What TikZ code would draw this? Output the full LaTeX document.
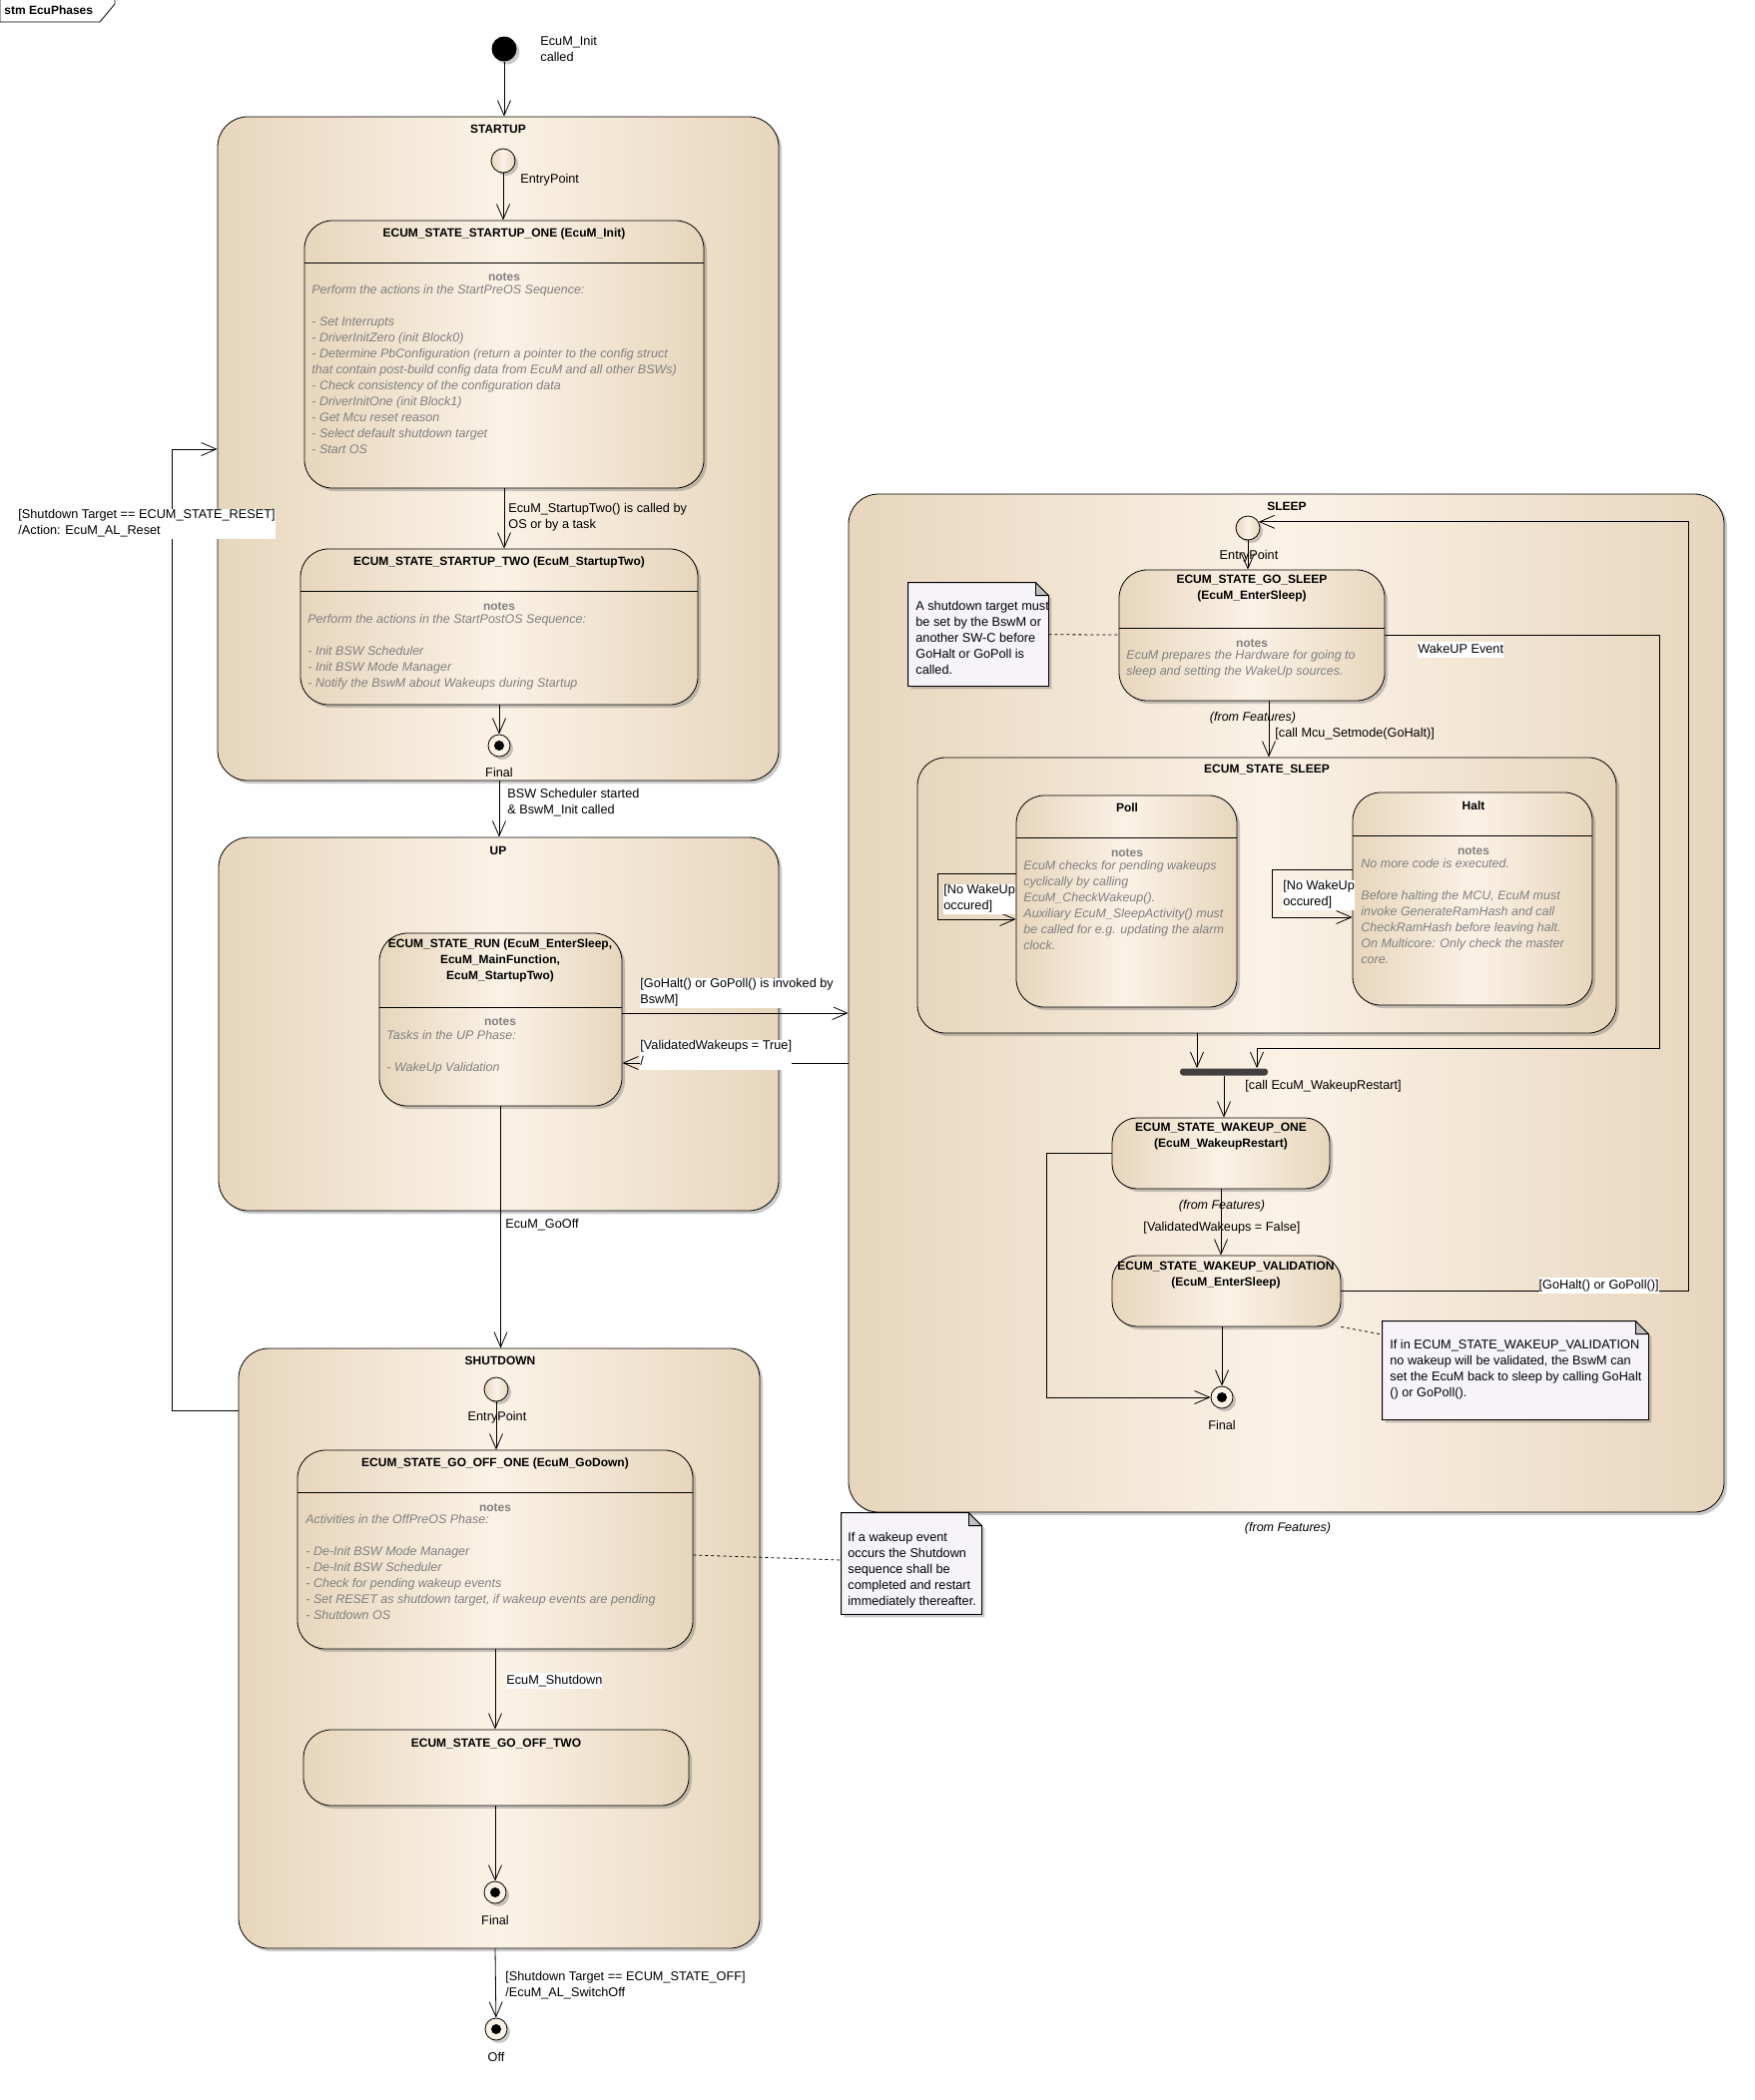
\documentclass[tikz,border=0pt]{standalone}
\usepackage{fontspec}
\setmainfont{Liberation Sans}
\usetikzlibrary{positioning,arrows.meta,shadows}
\definecolor{stedge}{RGB}{231,214,189}
\definecolor{stmid}{RGB}{251,242,230}
\definecolor{notefill}{RGB}{246,244,249}
\definecolor{notegray}{RGB}{128,128,128}
\begin{document}
\begin{tikzpicture}[x=1pt,y=-1pt,>={Straight Barb[length=15pt,width=13pt]},
  font=\fontsize{12.7}{16}\selectfont,line width=0.8pt,
  every node/.style={inner sep=0pt},
  shade/.style={drop shadow={shadow xshift=3pt,shadow yshift=-3pt,fill=black!60,opacity=.35}},
  phasebox/.style={draw,rounded corners=30pt,left color=stedge,right color=stedge,middle color=stmid,shade},
  statebox/.style={phasebox,rounded corners=28pt},
  entrypt/.style={circle,draw,minimum size=24pt,left color=stedge,right color=stedge,middle color=stmid,shade},
  finalpt/.style={circle,draw,minimum size=22pt,fill=stmid,shade,
    path picture={\fill[black] (path picture bounding box.center) circle (5pt);}},
  initpt/.style={circle,fill=black,minimum size=25pt,shade},
  forkbar/.style={rectangle,fill=black!75,minimum width=88pt,minimum height=7pt,rounded corners=3pt},
  notebox/.style={rectangle},
  notedraw/.style={draw,fill=notefill,shade},
  txt/.style={anchor=north west,align=left,execute at begin node=\strut},
  ctxt/.style={anchor=north,align=center,execute at begin node=\strut},
  ttl/.style={ctxt,font=\fontsize{12}{16}\selectfont\bfseries},
  nts/.style={ctxt,text=notegray,font=\fontsize{12}{16}\selectfont\bfseries},
  ntxt/.style={txt,text=notegray,font=\fontsize{12.5}{16}\selectfont\itshape},
  lblw/.style={txt,fill=white},
  feat/.style={ctxt,font=\fontsize{12.5}{16}\selectfont\itshape}]
\useasboundingbox (0,0) rectangle (1757,2104);

\draw[fill=white] (0,0) -- (0,22) -- (100,22) -- (115,4) -- (115,0);
\node[txt,font=\fontsize{12}{16}\selectfont\bfseries] (tag) at (4,3) {stm EcuPhases};

\node[phasebox,minimum width=562,minimum height=665] (startup) at (499,449.5) {};
\node[phasebox,minimum width=561,minimum height=374] (up) at (499.5,1026) {};
\node[phasebox,minimum width=522,minimum height=601] (shutdown) at (500,1651.5) {};
\node[phasebox,minimum width=877,minimum height=1020] (sleep) at (1288.5,1005) {};

\node[statebox,minimum width=400,minimum height=268] (one) at (505,355) {};
\node[statebox,minimum width=398,minimum height=156] (two) at (500,628) {};
\node[statebox,minimum width=243,minimum height=173] (run) at (501.5,1021.5) {};
\node[statebox,minimum width=396,minimum height=199] (goffone) at (496,1552.5) {};
\node[statebox,minimum width=386,minimum height=76] (gofftwo) at (497,1771) {};
\node[statebox,minimum width=266,minimum height=131] (gosleep) at (1254,636.5) {};
\node[statebox,minimum width=700,minimum height=276] (sleepst) at (1269,897) {};
\node[statebox,minimum width=221,minimum height=212] (poll) at (1128.5,903) {};
\node[statebox,minimum width=240,minimum height=213] (halt) at (1475,900.5) {};
\node[statebox,rounded corners=25pt,minimum width=218,minimum height=71] (wkone) at (1223,1155.5) {};
\node[statebox,rounded corners=25pt,minimum width=229,minimum height=71] (wkval) at (1228.5,1293.5) {};

\draw (one.west |- 0,263) -- (one.east |- 0,263);
\draw (two.west |- 0,592) -- (two.east |- 0,592);
\draw (run.west |- 0,1009) -- (run.east |- 0,1009);
\draw (goffone.west |- 0,1495) -- (goffone.east |- 0,1495);
\draw (gosleep.west |- 0,629) -- (gosleep.east |- 0,629);
\draw (poll.west |- 0,839) -- (poll.east |- 0,839);
\draw (halt.west |- 0,837) -- (halt.east |- 0,837);

\node[initpt] (init) at (505,49) {};
\node[entrypt] (stentry) at (504,161) {};
\node[finalpt] (stfinal) at (500,747) {};
\node[entrypt] (sdentry) at (497,1392) {};
\node[finalpt] (sdfinal) at (496,1896) {};
\node[finalpt] (off) at (497,2033) {};
\node[entrypt] (slentry) at (1250,529) {};
\node[finalpt] (slfinal) at (1224,1400) {};
\node[forkbar] (fork) at (1226,1074) {};

\node[notebox,minimum width=140,minimum height=103] (noteA) at (980,635.5) {};
\draw[notedraw] (noteA.south west) -- (noteA.north west) -- ([xshift=-13pt]noteA.north east) -- ([yshift=-13pt]noteA.north east) -- (noteA.south east) -- cycle;
\draw[fill=black!25] ([xshift=-13pt]noteA.north east) -- ([xshift=-13pt,yshift=-13pt]noteA.north east) -- ([yshift=-13pt]noteA.north east) -- cycle;
\node[notebox,minimum width=140,minimum height=101] (noteB) at (913,1566.5) {};
\draw[notedraw] (noteB.south west) -- (noteB.north west) -- ([xshift=-13pt]noteB.north east) -- ([yshift=-13pt]noteB.north east) -- (noteB.south east) -- cycle;
\draw[fill=black!25] ([xshift=-13pt]noteB.north east) -- ([xshift=-13pt,yshift=-13pt]noteB.north east) -- ([yshift=-13pt]noteB.north east) -- cycle;
\node[notebox,minimum width=266,minimum height=98] (noteC) at (1518,1373) {};
\draw[notedraw] (noteC.south west) -- (noteC.north west) -- ([xshift=-13pt]noteC.north east) -- ([yshift=-13pt]noteC.north east) -- (noteC.south east) -- cycle;
\draw[fill=black!25] ([xshift=-13pt]noteC.north east) -- ([xshift=-13pt,yshift=-13pt]noteC.north east) -- ([yshift=-13pt]noteC.north east) -- cycle;

\draw[->] (init) -- (init |- startup.north);
\draw[->] (stentry) -- (stentry |- one.north);
\draw[->] (one.south) -- (one.south |- two.north);
\draw[->] (two.south -| stfinal) -- (stfinal);
\draw[->] (stfinal |- startup.south) -- (stfinal |- up.north);
\draw[->] (run.east |- 0,1015) -- (sleep.west |- 0,1015);
\draw[->] (sleep.west |- 0,1065) -- (run.east |- 0,1065);
\draw[->] (run.south) -- (run.south |- shutdown.north);
\draw[->] (sdentry) -- (sdentry |- goffone.north);
\draw[->] (goffone.south) -- (goffone.south |- gofftwo.north);
\draw[->] (gofftwo.south -| sdfinal) -- (sdfinal);
\draw[->] (sdfinal |- shutdown.south) -- (off);
\draw[->] (shutdown.west |- 0,1413) -| (172,450) -- (startup.west |- 0,450);
\draw[->] (slentry) -- (slentry |- gosleep.north);
\draw[->] ([xshift=17pt]gosleep.south) -- ([xshift=17pt]gosleep.south |- sleepst.north);
\draw[->] (gosleep.east |- 0,636) -| (1662,1050) -| ([xshift=33pt]fork.north);
\draw[->] (sleepst.south -| 1199,0) -- (fork.north -| 1199,0);
\draw[->] (fork.south) -- (fork.south |- wkone.north);
\draw[->] (wkone.south) -- (wkone.south |- wkval.north);
\draw[->] (wkval.south -| slfinal) -- (slfinal);
\draw[->] (wkone.west) -| (1048,1400) -- (slfinal);
\draw[->] (wkval.east |- 0,1293) -| (slentry.30 -| 1691,0) -- (slentry.30);
\draw[->] (poll.west |- 0,875) -| (939,921) -- (poll.west |- 0,921);
\draw[->] (halt.west |- 0,871) -| (1274,919) -- (halt.west |- 0,919);
\draw[dashed] (noteA) -- (gosleep);
\draw[dashed] (goffone.east |- 0,1558) -- (noteB.west |- 0,1563);
\draw[dashed] (wkval.south east) -- (noteC.west |- 0,1337);

\node[txt] (initL) at (541,36) {EcuM\_Init\\called};
\node[ttl] (startupT) at (499,122) {STARTUP};
\node[txt] (stentryL) at (521,172) {EntryPoint};
\node[ttl] (oneT) at (505,226) {ECUM\_STATE\_STARTUP\_ONE (EcuM\_Init)};
\node[nts] (oneN) at (505,270) {notes};
\node[ntxt] (oneB) at (312,285) {Perform the actions in the StartPreOS Sequence:\\[16pt]- Set Interrupts\\- DriverInitZero (init Block0)\\- Determine PbConfiguration (return a pointer to the config struct\\that contain post-build config data from EcuM and all other BSWs)\\- Check consistency of the configuration data\\- DriverInitOne (init Block1)\\- Get Mcu reset reason\\- Select default shutdown target\\- Start OS};
\node[txt] (oneL) at (509,504) {EcuM\_StartupTwo() is called by\\OS or by a task};
\node[ttl] (twoT) at (500,555) {ECUM\_STATE\_STARTUP\_TWO (EcuM\_StartupTwo)};
\node[nts] (twoN) at (500,600) {notes};
\node[ntxt] (twoB) at (308,615) {Perform the actions in the StartPostOS Sequence:\\[16pt]- Init BSW Scheduler\\- Init BSW Mode Manager\\- Notify the BswM about Wakeups during Startup};
\node[ctxt] (stfinalL) at (500,767) {Final};
\node[txt] (upL) at (508,790) {BSW Scheduler started\\\& BswM\_Init called};
\node[lblw] (resetL) at (18,510) {[Shutdown Target == ECUM\_STATE\_RESET]\\/Action: EcuM\_AL\_Reset};

\node[ttl] (upT) at (499,845) {UP};
\node[ttl] (runT) at (501,940) {ECUM\_STATE\_RUN (EcuM\_EnterSleep,\\EcuM\_MainFunction,\\EcuM\_StartupTwo)};
\node[nts] (runN) at (501,1016) {notes};
\node[ntxt] (runB) at (387,1032) {Tasks in the UP Phase:\\[16pt]- WakeUp Validation};
\node[lblw] (gohaltL) at (641,980) {[GoHalt() or GoPoll() is invoked by\\BswM]};
\node[lblw] (validL) at (641,1042) {[ValidatedWakeups = True]\\/};
\node[txt] (gooffL) at (506,1219) {EcuM\_GoOff};

\node[ttl] (shutdownT) at (501,1356) {SHUTDOWN};
\node[ctxt] (sdentryL) at (498,1412) {EntryPoint};
\node[ttl] (goffoneT) at (496,1458) {ECUM\_STATE\_GO\_OFF\_ONE (EcuM\_GoDown)};
\node[nts] (goffoneN) at (496,1503) {notes};
\node[ntxt] (goffoneB) at (306,1517) {Activities in the OffPreOS Phase:\\[16pt]- De-Init BSW Mode Manager\\- De-Init BSW Scheduler\\- Check for pending wakeup events\\- Set RESET as shutdown target, if wakeup events are pending\\- Shutdown OS};
\node[lblw] (shutL) at (507,1676) {EcuM\_Shutdown};
\node[ttl] (gofftwoT) at (497,1739) {ECUM\_STATE\_GO\_OFF\_TWO};
\node[ctxt] (sdfinalL) at (496,1917) {Final};
\node[txt] (offL) at (506,1975) {[Shutdown Target == ECUM\_STATE\_OFF]\\/EcuM\_AL\_SwitchOff};
\node[ctxt] (offN) at (497,2054) {Off};
\node[txt] (noteBT) at (849,1535) {If a wakeup event\\occurs the Shutdown\\sequence shall be\\completed and restart\\immediately thereafter.};

\node[ttl] (sleepT) at (1289,500) {SLEEP};
\node[ctxt] (slentryL) at (1251,549) {EntryPoint};
\node[ttl] (gosleepT) at (1254,576) {ECUM\_STATE\_GO\_SLEEP\\(EcuM\_EnterSleep)};
\node[nts] (gosleepN) at (1254,637) {notes};
\node[ntxt] (gosleepB) at (1128,651) {EcuM prepares the Hardware for going to\\sleep and setting the WakeUp sources.};
\node[feat] (gosleepF) at (1255,711) {(from Features)};
\node[txt] (mcuL) at (1277,727) {[call Mcu\_Setmode(GoHalt)]};
\node[lblw] (wakeL) at (1420,643) {WakeUP Event};
\node[txt] (noteAT) at (917,602) {A shutdown target must\\be set by the BswM or\\another SW-C before\\GoHalt or GoPoll is\\called.};
\node[ttl] (sleepstT) at (1269,763) {ECUM\_STATE\_SLEEP};
\node[ttl] (pollT) at (1129,802) {Poll};
\node[nts] (pollN) at (1129,847) {notes};
\node[ntxt] (pollB) at (1025,862) {EcuM checks for pending wakeups\\cyclically by calling\\EcuM\_CheckWakeup().\\Auxiliary EcuM\_SleepActivity() must\\be called for e.g. updating the alarm\\clock.};
\node[lblw] (pollL) at (945,886) {[No WakeUp\\occured]};
\node[ttl] (haltT) at (1476,800) {Halt};
\node[nts] (haltN) at (1476,845) {notes};
\node[ntxt] (haltB) at (1363,860) {No more code is executed.\\[16pt]Before halting the MCU, EcuM must\\invoke GenerateRamHash and call\\CheckRamHash before leaving halt.\\On Multicore: Only check the master\\core.};
\node[lblw] (haltL) at (1285,882) {[No WakeUp\\occured]};
\node[txt] (forkL) at (1247,1080) {[call EcuM\_WakeupRestart]};
\node[ttl] (wkoneT) at (1223,1125) {ECUM\_STATE\_WAKEUP\_ONE\\(EcuM\_WakeupRestart)};
\node[feat] (wkoneF) at (1224,1200) {(from Features)};
\node[ctxt] (falseL) at (1224,1222) {[ValidatedWakeups = False]};
\node[ttl] (wkvalT) at (1228,1264) {ECUM\_STATE\_WAKEUP\_VALIDATION\\(EcuM\_EnterSleep)};
\node[lblw,anchor=north east] (gopollL) at (1662,1280) {[GoHalt() or GoPoll()]};
\node[ctxt] (slfinalL) at (1224,1421) {Final};
\node[txt] (noteCT) at (1392,1342) {If in ECUM\_STATE\_WAKEUP\_VALIDATION\\no wakeup will be validated, the BswM can\\set the EcuM back to sleep by calling GoHalt\\() or GoPoll().};
\node[feat] (sleepF) at (1290,1523) {(from Features)};
\end{tikzpicture}
\end{document}
